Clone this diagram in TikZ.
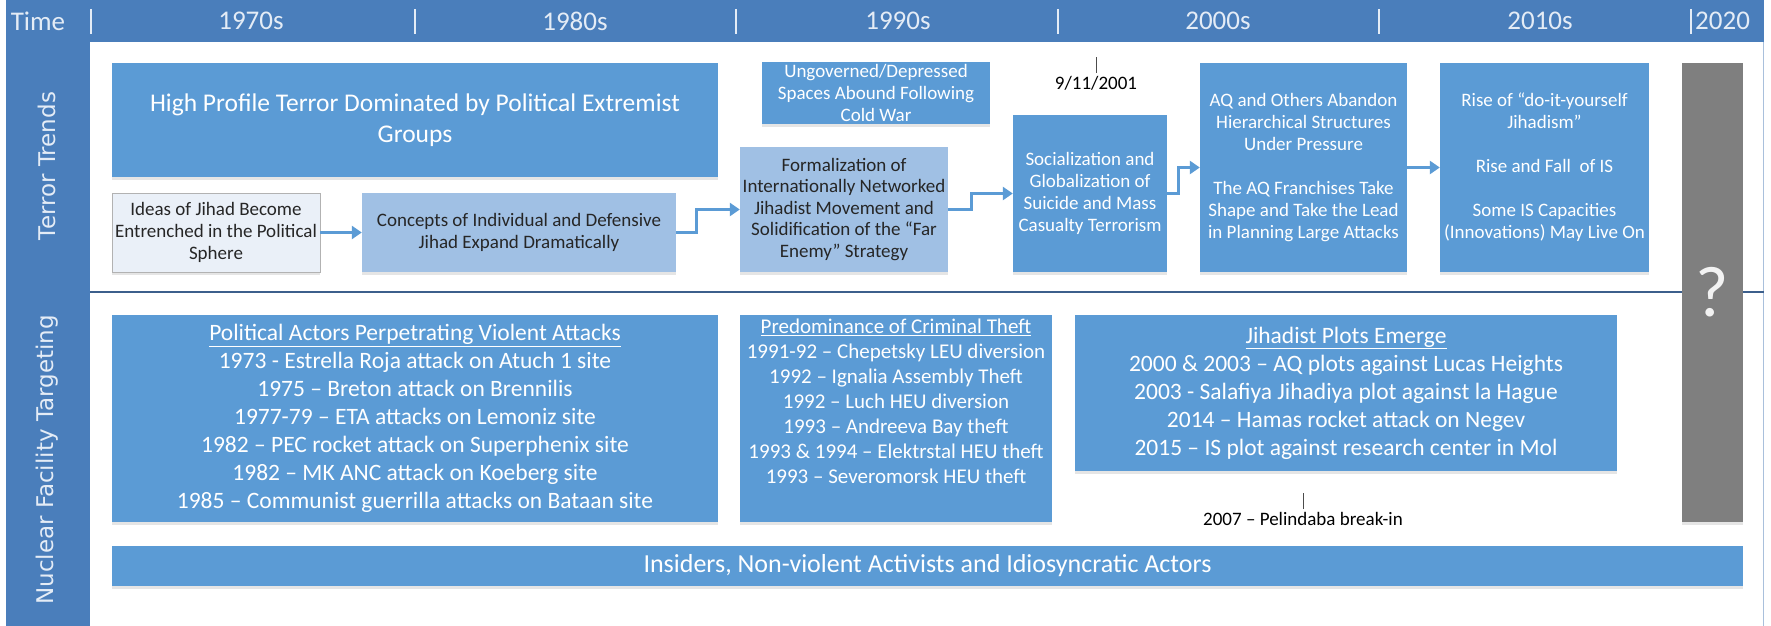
\documentclass[tikz,border=0pt]{standalone}
\usepackage{fontspec}
\setmainfont{Carlito}
\newfontfamily\sidefont{DejaVu Sans}
\usetikzlibrary{arrows.meta,shadows}

\definecolor{hdrblue}{HTML}{4A7EBB}
\definecolor{boxblue}{HTML}{5B9BD5}
\definecolor{paleblue}{HTML}{A0C0E4}
\definecolor{mistblue}{HTML}{EAF0F8}
\definecolor{framegrey}{HTML}{A9C0DC}
\definecolor{rulenavy}{HTML}{3C5F8C}
\definecolor{slate}{HTML}{7F7F7F}
\definecolor{headtext}{HTML}{E4ECF6}
\definecolor{inktext}{HTML}{262626}

\newcommand\fsz[2]{\fontsize{#1}{#2}\selectfont}

\begin{document}
\begin{tikzpicture}[x=1pt,y=-1pt,
  softshadow/.style={drop shadow={opacity=0.2,shadow xshift=0pt,shadow yshift=-3pt}},
  box/.style={fill=boxblue,text=white,align=center,inner sep=0pt,softshadow},
  palebox/.style={fill=paleblue,text=inktext,align=center,inner sep=0pt,softshadow},
  mistbox/.style={fill=mistblue,draw=black!30,line width=0.8pt,text=inktext,align=center,inner sep=0pt,softshadow},
  small/.style={font=\fsz{19}{22}},
  listtext/.style={font=\fsz{23.5}{28}},
  hdrtext/.style={text=headtext,font=\fsz{27}{30},inner sep=0pt},
  sidelabel/.style={rotate=90,text=headtext,font=\sidefont\fsz{23}{26},inner sep=0pt},
  sepbar/.style={draw=headtext,line width=1.6pt},
  flow/.style={draw=boxblue,line width=2.6pt,-{Triangle[length=10pt,width=13pt]}},
  tick/.style={draw=black!70,line width=1pt},
  note/.style={text=black,inner sep=0pt,font=\fsz{19}{22}}
]
\useasboundingbox (0,0) rectangle (1771,626);

% background bands
\fill[white] (0,0) rectangle (1771,626);
\fill[hdrblue] (6,0) rectangle (1764,42);
\fill[hdrblue] (6,0) rectangle (90,626);
\draw[framegrey,line width=1.2pt] (1763.4,42) -- (1763.4,626);
\draw[rulenavy,line width=1.5pt] (90,292) -- (1764,292);

% time axis
\node[hdrtext] (tm) at (38,21) {Time};
\draw[sepbar] (91,9) -- (91,34);
\node[hdrtext] (d70) at (251,21) {1970s};
\draw[sepbar] (415,9) -- (415,34);
\node[hdrtext] (d80) at (575,21) {1980s};
\draw[sepbar] (736,9) -- (736,34);
\node[hdrtext] (d90) at (898,21) {1990s};
\draw[sepbar] (1058,9) -- (1058,34);
\node[hdrtext] (d00) at (1218,21) {2000s};
\draw[sepbar] (1379,9) -- (1379,34);
\node[hdrtext] (d10) at (1540,21) {2010s};
\draw[sepbar] (1691,9) -- (1691,34);
\node[hdrtext,anchor=west] (d20) at (1695,21) {2020};

% row labels
\node[sidelabel] (rowtt) at (47,166) {Terror Trends};
\node[sidelabel] (rownf) at (47,460) {Nuclear Facility Targeting};

% terror trends
\node[box,minimum width=606pt,minimum height=114pt,font=\fsz{25.5}{30.5}] (hp) at (415,120)
  {High Profile Terror Dominated by Political Extremist\\Groups};
\node[mistbox,minimum width=208pt,minimum height=79pt,small] (ideas) at (216,232.5)
  {Ideas of Jihad Become\\Entrenched in the Political\\Sphere};
\node[palebox,minimum width=314pt,minimum height=79pt,small] (concepts) at (519,232.5)
  {Concepts of Individual and Defensive\\Jihad Expand Dramatically};
\node[box,minimum width=228pt,minimum height=62pt,small] (ungov) at (876,93)
  {Ungoverned/Depressed\\Spaces Abound Following\\Cold War};
\node[palebox,minimum width=208pt,minimum height=125pt,font=\fsz{19}{21.5}] (formal) at (844,209.5)
  {Formalization of\\Internationally Networked\\Jihadist Movement and\\Solidification of the “Far\\Enemy” Strategy};
\node[box,minimum width=154pt,minimum height=157pt,small] (social) at (1090,193.5)
  {Socialization and\\Globalization of\\Suicide and Mass\\Casualty Terrorism};
\node[box,minimum width=207pt,minimum height=209pt,small] (aq) at (1303.5,167.5)
  {AQ and Others Abandon\\Hierarchical Structures\\Under Pressure\\[22pt]The AQ Franchises Take\\Shape and Take the Lead\\in Planning Large Attacks};
\node[box,minimum width=209pt,minimum height=209pt,small] (rise) at (1544.5,167.5)
  {Rise of “do-it-yourself\\Jihadism”\\[22pt]Rise and Fall\ \ of IS\\[22pt]Some IS Capacities\\(Innovations) May Live On};

\node[note] (t911) at (1096,83) {9/11/2001};
\draw[tick] ([yshift=3pt]t911.north) -- ++(0,-16);

% flow of terror trends
\draw[flow] (ideas.east) -- (concepts.west);
\draw[flow] (concepts.east) -- ++(20,0) |- (formal.west);
\draw[flow] (formal.east) -- ++(23,0) |- (social.west);
\draw[flow] (social.east) -- ++(11,0) |- (aq.west);
\draw[flow] (aq.east) -- (rise.west);

% open future
\node[fill=slate,minimum width=61pt,minimum height=459pt,inner sep=0pt,softshadow,
      text=white!95!black,font=\fsz{72}{80}] (future) at (1712.5,292.5) {?};

% nuclear facility targeting
\node[box,minimum width=606pt,minimum height=207pt,listtext] (political) at (415,418.5)
  {\underline{Political Actors Perpetrating Violent Attacks}\\
   1973 - Estrella Roja attack on Atuch 1 site\\
   1975 – Breton attack on Brennilis\\
   1977-79 – ETA attacks on Lemoniz site\\
   1982 – PEC rocket attack on Superphenix site\\
   1982 – MK ANC attack on Koeberg site\\
   1985 – Communist guerrilla attacks on Bataan site};
\node[box,minimum width=312pt,minimum height=207pt] (theft) at (896,418.5) {};
\node[text=white,align=center,inner sep=0pt,anchor=north,font=\fsz{21}{25}] (thefttext) at (896,318.5)
  {\underline{Predominance of Criminal Theft}\\
   1991-92 – Chepetsky LEU diversion\\
   1992 – Ignalia Assembly Theft\\
   1992 – Luch HEU diversion\\
   1993 – Andreeva Bay theft\\
   1993 \& 1994 – Elektrstal HEU theft\\
   1993 – Severomorsk HEU theft};
\node[box,minimum width=542pt,minimum height=156pt,listtext] (plots) at (1346,393)
  {\underline{Jihadist Plots Emerge}\\
   2000 \& 2003 – AQ plots against Lucas Heights\\
   2003 - Salafiya Jihadiya plot against la Hague\\
   2014 – Hamas rocket attack on Negev\\
   2015 – IS plot against research center in Mol};

\node[note] (pelindaba) at (1303,519) {2007 – Pelindaba break-in};
\draw[tick] ([yshift=3pt]pelindaba.north) -- ++(0,-16);

\node[box,minimum width=1631pt,minimum height=40pt,font=\fsz{26}{28}] (insiders) at (927.5,566)
  {Insiders, Non-violent Activists and Idiosyncratic Actors};
\end{tikzpicture}
\end{document}
